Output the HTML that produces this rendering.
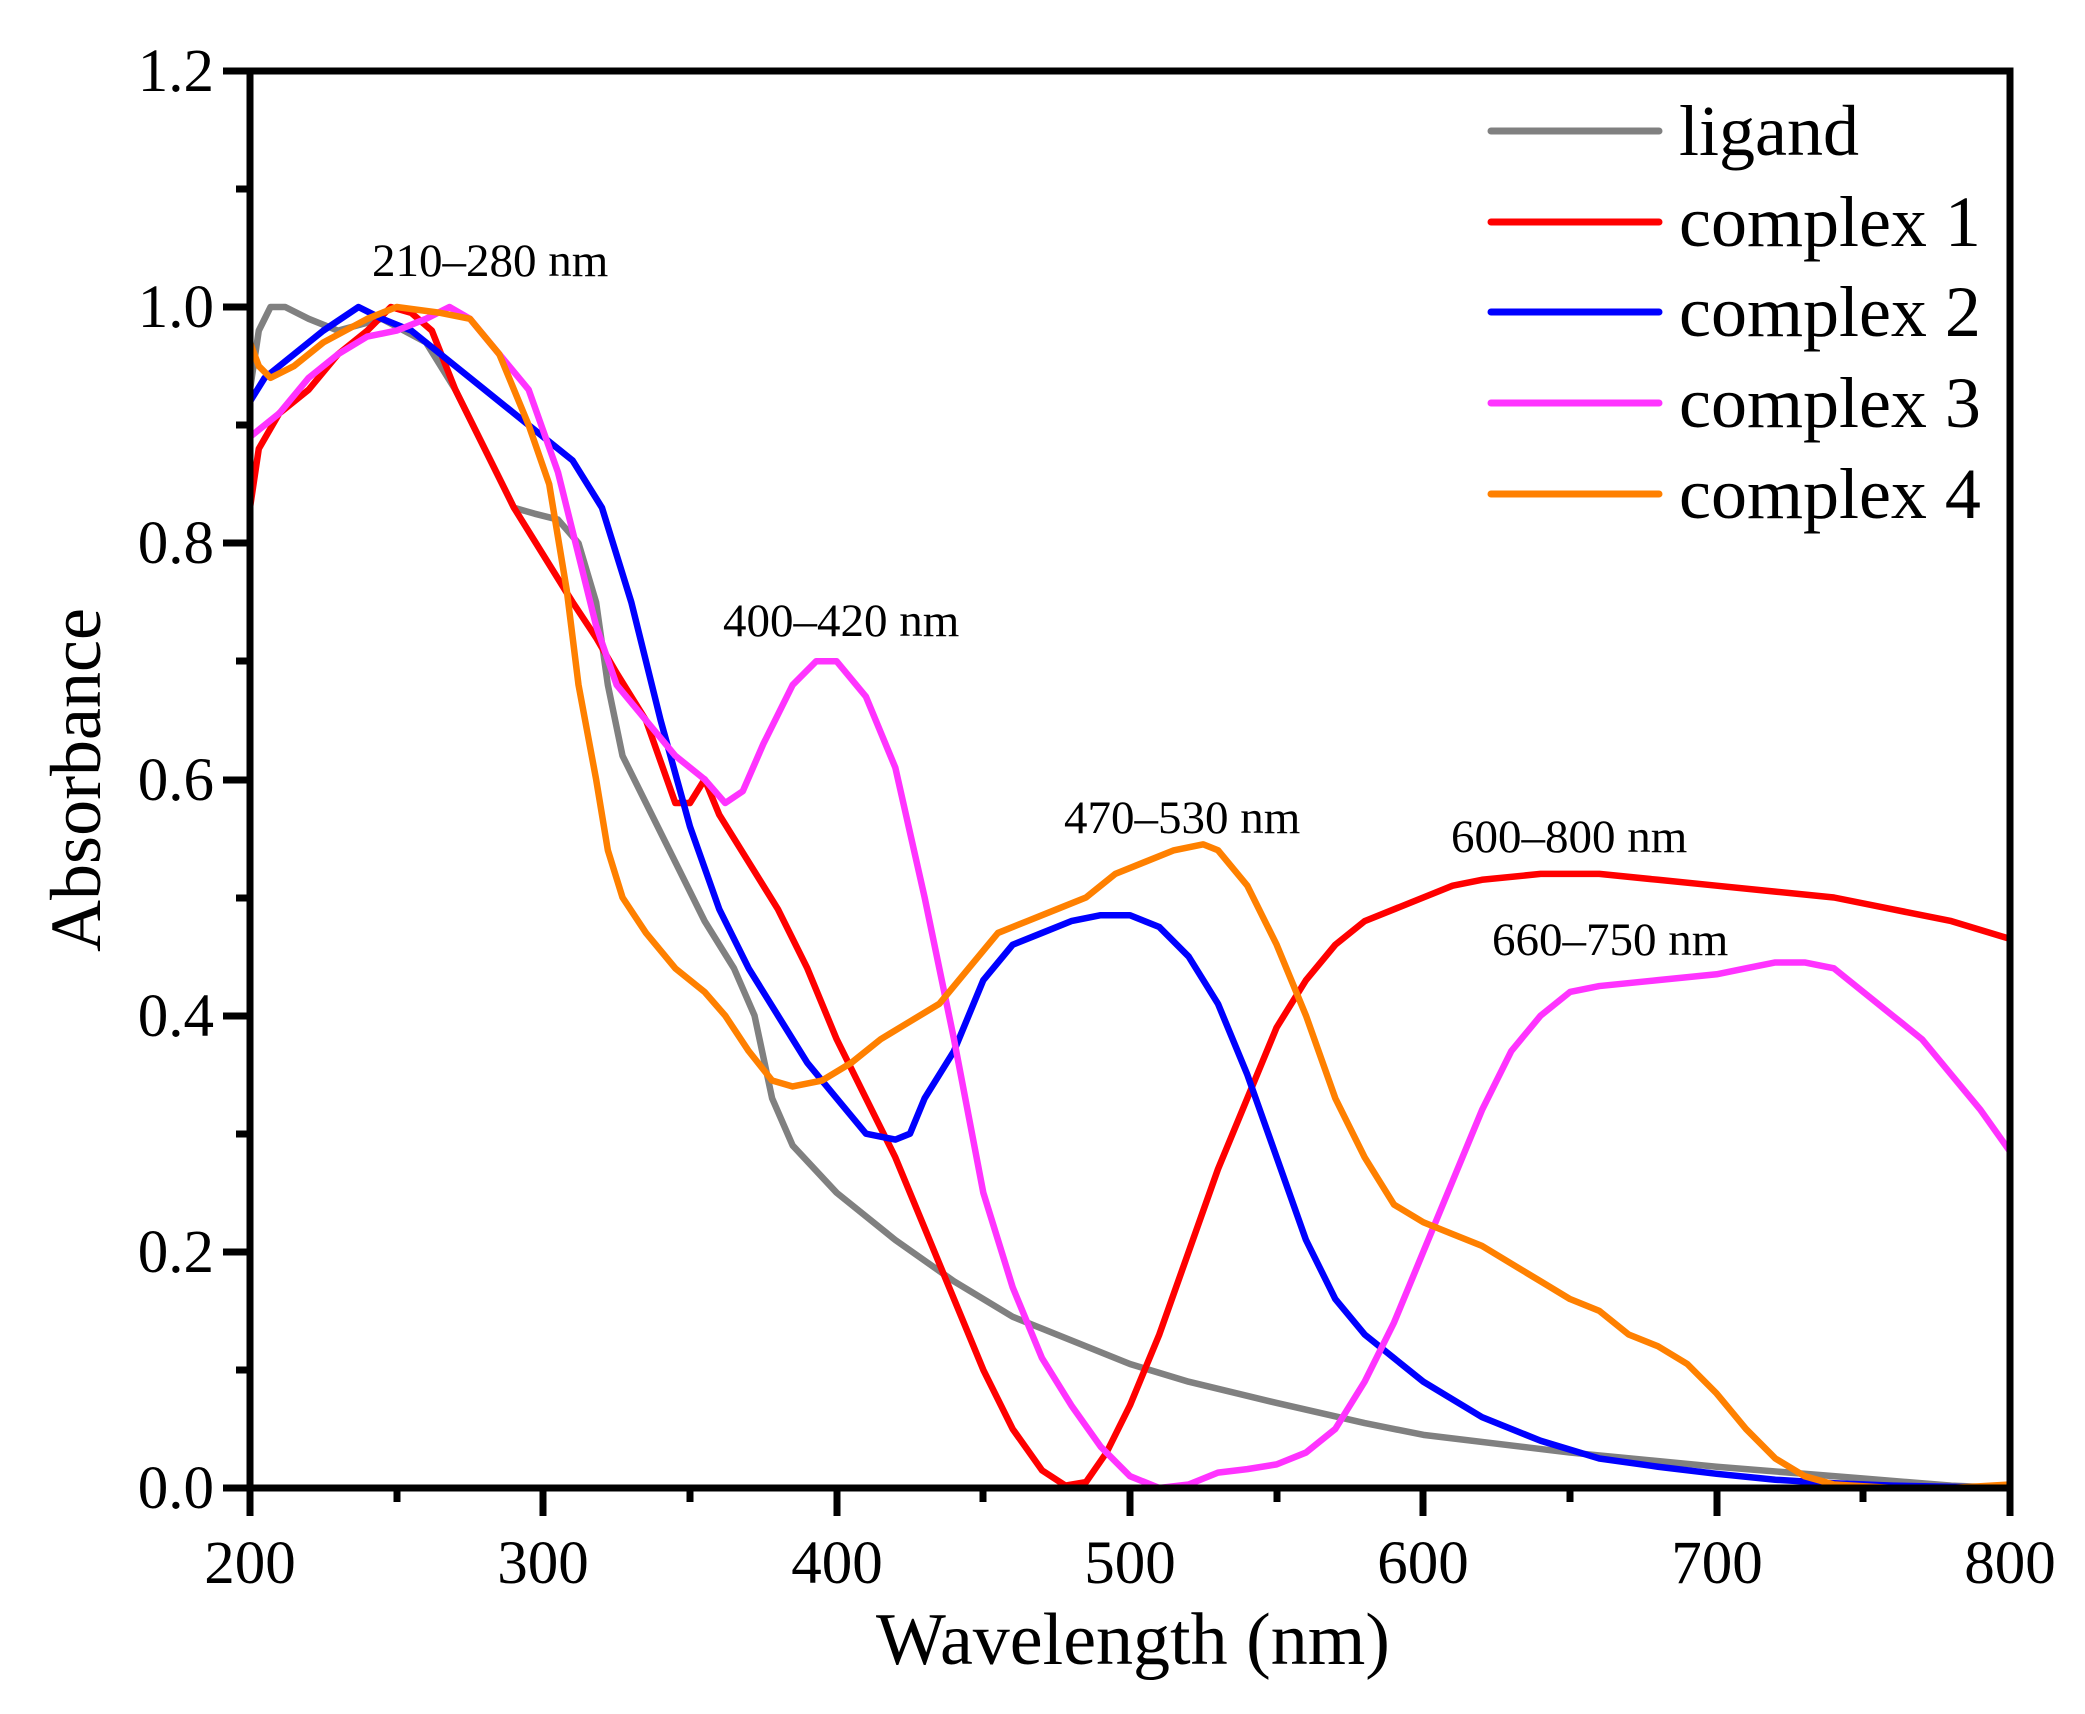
<!DOCTYPE html>
<html><head><meta charset="utf-8"><style>
html,body{margin:0;padding:0;background:#fff}
svg{display:block}
text{font-family:"Liberation Serif",serif;fill:#000}
</style></head><body>
<svg width="2085" height="1714" viewBox="0 0 2085 1714" xmlns="http://www.w3.org/2000/svg">
<rect width="2085" height="1714" fill="#fff"/>
<g transform="matrix(2.9333 0 0 -1181 -336.67 1488)" fill="none" stroke-width="6.5" stroke-linejoin="round">
<polyline vector-effect="non-scaling-stroke" stroke="#808080" points="200,0.93 203,0.98 207,1.0 212,1.0 220,0.99 230,0.98 245,0.99 260,0.97 270,0.93 280,0.88 290,0.83 297,0.825 305,0.82 312,0.8 318,0.75 322,0.68 327,0.62 335,0.58 345,0.53 355,0.48 365,0.44 372,0.4 378,0.33 385,0.29 400,0.25 420,0.21 440,0.175 460,0.145 480,0.125 500,0.105 520,0.09 550,0.072 580,0.055 600,0.045 650,0.03 700,0.018 750,0.008 780,0.002 800,0"/>
<polyline vector-effect="non-scaling-stroke" stroke="#ff0000" points="200,0.83 203,0.88 210,0.91 220,0.93 230,0.96 240,0.98 248,1.0 255,0.995 262,0.98 270,0.93 280,0.88 290,0.83 300,0.79 310,0.75 318,0.72 325,0.69 335,0.65 345,0.58 350,0.58 355,0.6 360,0.57 370,0.53 380,0.49 390,0.44 400,0.38 410,0.33 420,0.28 430,0.22 440,0.16 450,0.1 460,0.05 470,0.015 478,0.002 485,0.005 492,0.03 500,0.07 510,0.13 520,0.2 530,0.27 540,0.33 550,0.39 560,0.43 570,0.46 580,0.48 600,0.5 610,0.51 620,0.515 640,0.52 660,0.52 680,0.515 700,0.51 720,0.505 740,0.5 760,0.49 780,0.48 800,0.465"/>
<polyline vector-effect="non-scaling-stroke" stroke="#0000ff" points="200,0.92 205,0.94 215,0.96 225,0.98 237,1.0 245,0.99 255,0.98 265,0.96 280,0.93 290,0.91 300,0.89 310,0.87 320,0.83 330,0.75 340,0.65 350,0.56 360,0.49 370,0.44 380,0.4 390,0.36 400,0.33 410,0.3 420,0.295 425,0.3 430,0.33 440,0.37 450,0.43 460,0.46 470,0.47 480,0.48 490,0.485 500,0.485 510,0.475 520,0.45 530,0.41 540,0.35 550,0.28 560,0.21 570,0.16 580,0.13 600,0.09 620,0.06 640,0.04 660,0.025 680,0.018 700,0.012 720,0.007 740,0.004 760,0.002 800,0"/>
<polyline vector-effect="non-scaling-stroke" stroke="#ff33ff" points="200,0.89 210,0.91 220,0.94 230,0.96 240,0.975 250,0.98 260,0.99 268,1.0 275,0.99 285,0.96 295,0.93 305,0.86 312,0.79 318,0.73 325,0.68 335,0.65 345,0.62 355,0.6 362,0.58 368,0.59 375,0.63 385,0.68 393,0.7 400,0.7 410,0.67 420,0.61 430,0.5 440,0.38 450,0.25 460,0.17 470,0.11 480,0.07 490,0.035 500,0.01 510,0 520,0.003 530,0.013 540,0.016 550,0.02 560,0.03 570,0.05 580,0.09 590,0.14 600,0.2 610,0.26 620,0.32 630,0.37 640,0.4 650,0.42 660,0.425 680,0.43 700,0.435 710,0.44 720,0.445 730,0.445 740,0.44 750,0.42 760,0.4 770,0.38 780,0.35 790,0.32 800,0.285"/>
<polyline vector-effect="non-scaling-stroke" stroke="#ff8000" points="200,0.97 203,0.95 207,0.94 215,0.95 225,0.97 240,0.99 250,1.0 265,0.995 275,0.99 285,0.96 295,0.9 302,0.85 308,0.76 312,0.68 318,0.6 322,0.54 327,0.5 335,0.47 345,0.44 355,0.42 362,0.4 370,0.37 378,0.345 385,0.34 395,0.345 405,0.36 415,0.38 425,0.395 435,0.41 445,0.44 455,0.47 465,0.48 475,0.49 485,0.5 495,0.52 505,0.53 515,0.54 525,0.545 530,0.54 540,0.51 550,0.46 560,0.4 570,0.33 580,0.28 590,0.24 600,0.225 610,0.215 620,0.205 630,0.19 640,0.175 650,0.16 660,0.15 670,0.13 680,0.12 690,0.105 700,0.08 710,0.05 720,0.025 730,0.01 740,0.003 760,0 780,0 800,0.003"/>
</g>
<g stroke="#000" stroke-width="7" fill="none">
<rect x="250" y="71" width="1760" height="1417"/>
<path d="M223,71H250M223,307H250M223,543H250M223,780H250M223,1016H250M223,1252H250M223,1488H250"/>
<path d="M236,189H250M236,425H250M236,661H250M236,898H250M236,1134H250M236,1370H250"/>
<path d="M250,1488V1516M543,1488V1516M837,1488V1516M1130,1488V1516M1423,1488V1516M1717,1488V1516M2010,1488V1516"/>
<path d="M397,1488V1502M690,1488V1502M983,1488V1502M1277,1488V1502M1570,1488V1502M1863,1488V1502"/>
</g>
<g font-size="61" text-anchor="end">
<text x="214" y="91">1.2</text><text x="214" y="327">1.0</text><text x="214" y="563">0.8</text>
<text x="214" y="800">0.6</text><text x="214" y="1036">0.4</text><text x="214" y="1272">0.2</text><text x="214" y="1508">0.0</text>
</g>
<g font-size="61" text-anchor="middle">
<text x="250" y="1583">200</text><text x="543" y="1583">300</text><text x="837" y="1583">400</text>
<text x="1130" y="1583">500</text><text x="1423" y="1583">600</text><text x="1717" y="1583">700</text><text x="2010" y="1583">800</text>
</g>
<text x="1133" y="1664" font-size="74" text-anchor="middle">Wavelength (nm)</text>
<text transform="translate(100,780) rotate(-90)" font-size="72" text-anchor="middle">Absorbance</text>
<g font-size="47">
<text x="372" y="276">210–280 nm</text>
<text x="723" y="636">400–420 nm</text>
<text x="1064" y="833">470–530 nm</text>
<text x="1451" y="852">600–800 nm</text>
<text x="1492" y="955">660–750 nm</text>
</g>
<g stroke-width="7" stroke-linecap="round">
<line x1="1491" y1="131" x2="1659" y2="131" stroke="#808080"/>
<line x1="1491" y1="222" x2="1659" y2="222" stroke="#ff0000"/>
<line x1="1491" y1="312" x2="1659" y2="312" stroke="#0000ff"/>
<line x1="1491" y1="403" x2="1659" y2="403" stroke="#ff33ff"/>
<line x1="1491" y1="494" x2="1659" y2="494" stroke="#ff8000"/>
</g>
<g font-size="72">
<text x="1679" y="155">ligand</text>
<text x="1679" y="246">complex 1</text>
<text x="1679" y="336">complex 2</text>
<text x="1679" y="427">complex 3</text>
<text x="1679" y="518">complex 4</text>
</g>
</svg>
</body></html>
